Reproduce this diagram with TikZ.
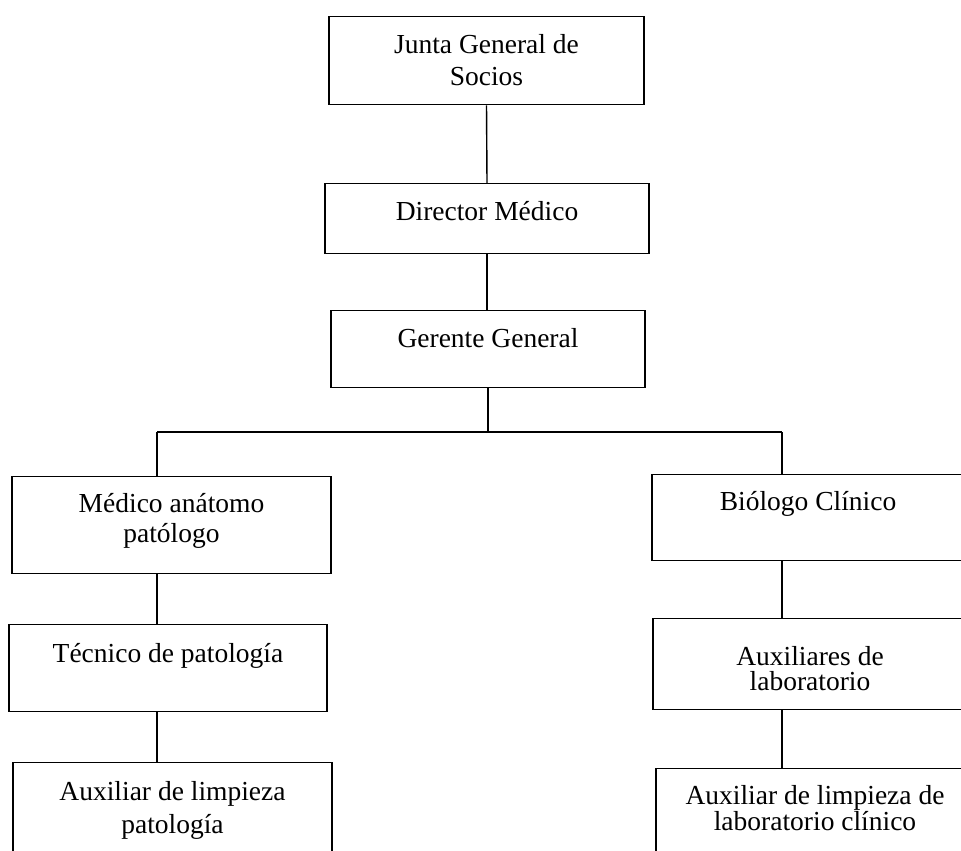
\documentclass[tikz,border=0pt]{standalone}
\usepackage{fontspec}
\setmainfont{Liberation Serif}
\usetikzlibrary{positioning}

\begin{document}
\begin{tikzpicture}[x=0.5pt,y=-0.5pt,
	cargo/.style={rectangle,draw,line width=0.7pt,anchor=north,align=center,
		inner xsep=0pt,inner ysep=0pt,font=\fontsize{13.75}{16}\selectfont}]
	\useasboundingbox (0,0) rectangle (961,850);
	\clip (0,0) rectangle (961,850);
	% upper chain
	\node [cargo,minimum width=157.5pt,text height=34.5pt,text depth=9.5pt] (junta) at (486.5,16) {Junta General de\\Socios};
	\node [cargo,minimum width=162pt,text height=18.5pt,text depth=16.5pt] (director) at (487,183) {Director Médico};
	\node [cargo,minimum width=157pt,text height=18.5pt,text depth=20pt] (gerente) at (488,310) {Gerente General};
	% two branches
	\node [cargo,minimum width=159.5pt,text height=33pt,text depth=15.5pt,
		font=\fontsize{13.75}{15}\selectfont] (medico) at (171.5,476) {Médico anátomo\\patólogo};
	\node [cargo,minimum width=156pt,text height=18pt,text depth=25pt] (biologo) at (808,474) {Biólogo Clínico};
	\node [cargo,minimum width=159pt,text height=19pt,text depth=24.5pt] (tecnico) at (168,624) {Técnico de patología};
	\node [cargo,minimum width=157pt,text height=36pt,text depth=9.5pt,
		font=\fontsize{13.75}{12.5}\selectfont] (auxlab) at (810,618) {Auxiliares de\\laboratorio};
	\node [cargo,minimum width=159.5pt,text height=35.5pt,text depth=23.5pt,
		font=\fontsize{13.75}{16.5}\selectfont] (limpat) at (172.5,762) {Auxiliar de limpieza\\patología};
	\node [cargo,minimum width=159pt,text height=31pt,text depth=25pt,
		font=\fontsize{13.75}{13}\selectfont] (limlab) at (815,768) {Auxiliar de limpieza de\\laboratorio clínico};
	% connectors
	\coordinate (busL) at (157,432);
	\coordinate (busR) at (782,432);
	\draw [line width=0.7pt] (junta.south) -- (director.north);
	\draw [line width=0.7pt] (director.south) -- (director.south |- gerente.north);
	\draw [line width=0.7pt] (gerente.south) -- (gerente.south |- busL);
	\draw [line width=0.7pt] (busL) -- (busR);
	\draw [line width=0.7pt] (busL) -- (busL |- medico.north);
	\draw [line width=0.7pt] (busR) -- (busR |- biologo.north);
	\draw [line width=0.7pt] (medico.south -| busL) -- (tecnico.north -| busL);
	\draw [line width=0.7pt] (tecnico.south -| busL) -- (limpat.north -| busL);
	\draw [line width=0.7pt] (biologo.south -| busR) -- (auxlab.north -| busR);
	\draw [line width=0.7pt] (auxlab.south -| busR) -- (limlab.north -| busR);
\end{tikzpicture}
\end{document}
